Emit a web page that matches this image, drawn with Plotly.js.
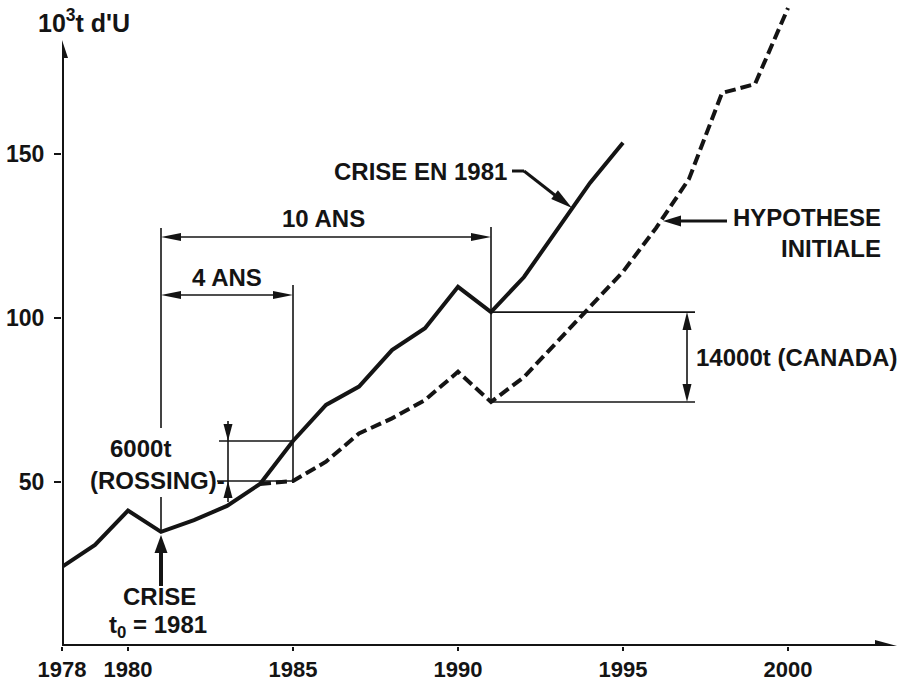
<!DOCTYPE html>
<html>
<head>
<meta charset="utf-8">
<script src="https://cdn.plot.ly/plotly-3.0.1.min.js"></script>
<style>html,body{margin:0;padding:0;background:#fff;}</style>
</head>
<body>
<div id="chart" style="width:919px;height:682px;"></div>
<script>
// ---- data (10^3 t d'U) ----
const solidYears = [1978,1979,1980,1981,1982,1983,1984,1985,1986,1987,1988,1989,1990,1991,1992,1993,1994,1995];
const solidValues = [24.1,30.8,41.3,34.8,38.4,42.7,49.4,62.5,73.5,79.1,90.2,96.9,109.5,101.8,112.5,127.0,141.2,153.4];
const dashYears = [1984,1985,1986,1987,1988,1989,1990,1991,1992,1993,1994,1995,1996,1997,1998,1999,2000];
const dashValues = [49.4,50.3,56.2,64.8,69.4,75.0,83.6,74.4,82.0,92.8,103.4,114.1,127.4,142.4,168.6,171.3,194.5];
const xTickVals = [1978,1980,1985,1990,1995,2000];
const xTickText = ['1978','1980','1985','1990','1995','2000'];
const yTickVals = [50,100,150];
const yTickText = ['50','100','150'];

// ---- geometry helpers (pixel -> data for decorations) ----
const PX_PER_YEAR = 33, X0PX = 62, PLOT_W = 838;
const PX_PER_UNIT = 3.28, Y0PX = 646;
const X = px => 1978 + (px - X0PX) / PX_PER_YEAR;
const Y = py => (Y0PX - py) / PX_PER_UNIT;
const val = (yrs, vals, yr) => vals[yrs.indexOf(yr)];

const INK = '#141414';
const FONT = 'Liberation Sans, Arial, sans-serif';

const shapes = [];
function line(x0, y0, x1, y1, w) {
  shapes.push({type:'line', xref:'x', yref:'y', x0:x0, y0:y0, x1:x1, y1:y1,
               line:{color:INK, width:w}});
}
// arrowhead: tip at data (xd,yd); direction (sx,sy) in screen pixels (y down)
function head(xd, yd, sx, sy, len, wid) {
  const n = Math.hypot(sx, sy); const ux = sx / n, uy = -sy / n;
  const bx = -ux * len, by = -uy * len, px = -uy * wid / 2, py = ux * wid / 2;
  const path = `M0,0 L${(bx+px).toFixed(2)},${(by+py).toFixed(2)} L${(bx-px).toFixed(2)},${(by-py).toFixed(2)} Z`;
  shapes.push({type:'path', xref:'x', yref:'y', xsizemode:'pixel', ysizemode:'pixel',
               xanchor:xd, yanchor:yd, path:path, fillcolor:INK, line:{width:0}});
}

// axes with arrows
line(1978, 0, 1978, Y(52), 4);
head(1978, Y(40), 0, -1, 18, 12);
line(1978, 0, X(880), 0, 4);
head(X(897), 0, 1, 0, 22, 12);

const s1981 = val(solidYears, solidValues, 1981);
const s1985 = val(solidYears, solidValues, 1985);
const d1985 = val(dashYears, dashValues, 1985);
const s1991 = val(solidYears, solidValues, 1991);
const d1991 = val(dashYears, dashValues, 1991);
const TW = 1.6;

// vertical reference lines
line(1981, Y(228), 1981, Y(428), TW);
line(1981, Y(497), 1981, s1981, TW);
line(1985, Y(285), 1985, d1985, TW);
line(1991, Y(227), 1991, d1991, TW);

// 10 ANS / 4 ANS dimension arrows
line(X(175), Y(237), X(476), Y(237), TW);
head(1981, Y(237), -1, 0, 20, 8);
head(1991, Y(237), 1, 0, 20, 8);
line(X(175), Y(295), X(279), Y(295), TW);
head(1981, Y(295), -1, 0, 20, 8);
head(1985, Y(295), 1, 0, 20, 8);

// 6000t (ROSSING)
line(X(219), s1985, 1985, s1985, TW);
line(X(217), d1985, 1985, d1985, TW);
line(X(228), Y(421), X(228), Y(502), TW);
head(X(228), s1985, 0, 1, 17, 9);
head(X(228), d1985, 0, -1, 17, 9);

// 14000t (CANADA)
line(1991, s1991, X(695), s1991, TW);
line(1991, d1991, X(695), d1991, TW);
line(X(687), Y(330), X(687), Y(384), TW);
head(X(687), s1991, 0, -1, 18, 9);
head(X(687), d1991, 0, 1, 18, 9);

// CRISE arrow (points up to 1981)
line(1981, Y(586), 1981, Y(550), 4);
head(1981, Y(535), 0, -1, 18, 13);

// CRISE EN 1981 leader
line(X(512), Y(171), X(524), Y(171), 3);
line(X(524), Y(171), X(556), Y(196), 3);
head(X(572), Y(208), 48, 37, 22, 11);

// HYPOTHESE INITIALE leader
line(X(727), Y(221), X(678), Y(221), 3);
head(X(663), Y(221), -1, 0, 18, 11);

// ---- text annotations ----
function txt(text, px, py, size, xanchor, extra) {
  return Object.assign({xref:'x', yref:'y', x:X(px), y:Y(py), text:text, showarrow:false,
    xanchor:xanchor || 'center', yanchor:'middle',
    font:{family:FONT, size:size, color:INK, weight:'bold'}}, extra || {});
}
const annotations = [
  txt("10<sup>3</sup>t d'U", 132, 21, 25, 'right'),
  txt('CRISE EN 1981', 420, 171, 24),
  txt('10 ANS', 323, 218, 24),
  txt('4 ANS', 227, 277, 24),
  txt('HYPOTHESE<br>INITIALE', 883, 233, 24, 'right', {align:'right'}),
  txt('14000t (CANADA)', 694, 357, 24, 'left'),
  txt('6000t', 140, 448, 24),
  txt('(ROSSING)-', 157, 480, 24),
  txt('CRISE', 159, 596, 24),
  txt('t<sub>0</sub> = 1981', 158, 626, 24)
];

const traces = [
  {x: solidYears, y: solidValues, type:'scatter', mode:'lines', cliponaxis:false,
   line:{color:INK, width:4}, name:'Crise en 1981'},
  {x: dashYears, y: dashValues, type:'scatter', mode:'lines', cliponaxis:false,
   line:{color:INK, width:4, dash:'11px,5px'}, name:'Hypothèse initiale'}
];

const layout = {
  width:919, height:682,
  margin:{l:X0PX, r:919 - X0PX - PLOT_W, t:0, b:682 - Y0PX, pad:0},
  paper_bgcolor:'#ffffff', plot_bgcolor:'#ffffff',
  showlegend:false,
  font:{family:FONT, color:INK},
  xaxis:{range:[1978, 1978 + PLOT_W / PX_PER_YEAR], showgrid:false, zeroline:false, showline:false,
         tickvals:xTickVals, ticktext:xTickText, ticks:'outside', ticklen:4, tickwidth:2, tickcolor:INK,
         ticklabelstandoff:0, tickfont:{family:FONT, size:22, color:INK, weight:'bold'}, fixedrange:true},
  yaxis:{range:[0, Y0PX / PX_PER_UNIT], showgrid:false, zeroline:false, showline:false,
         tickvals:yTickVals, ticktext:yTickText, ticks:'outside', ticklen:7, tickwidth:2, tickcolor:INK,
         ticklabelstandoff:5, tickfont:{family:FONT, size:23, color:INK, weight:'bold'}, fixedrange:true},
  shapes:shapes,
  annotations:annotations
};

Plotly.newPlot('chart', traces, layout, {displayModeBar:false, staticPlot:true});
</script>
</body>
</html>
